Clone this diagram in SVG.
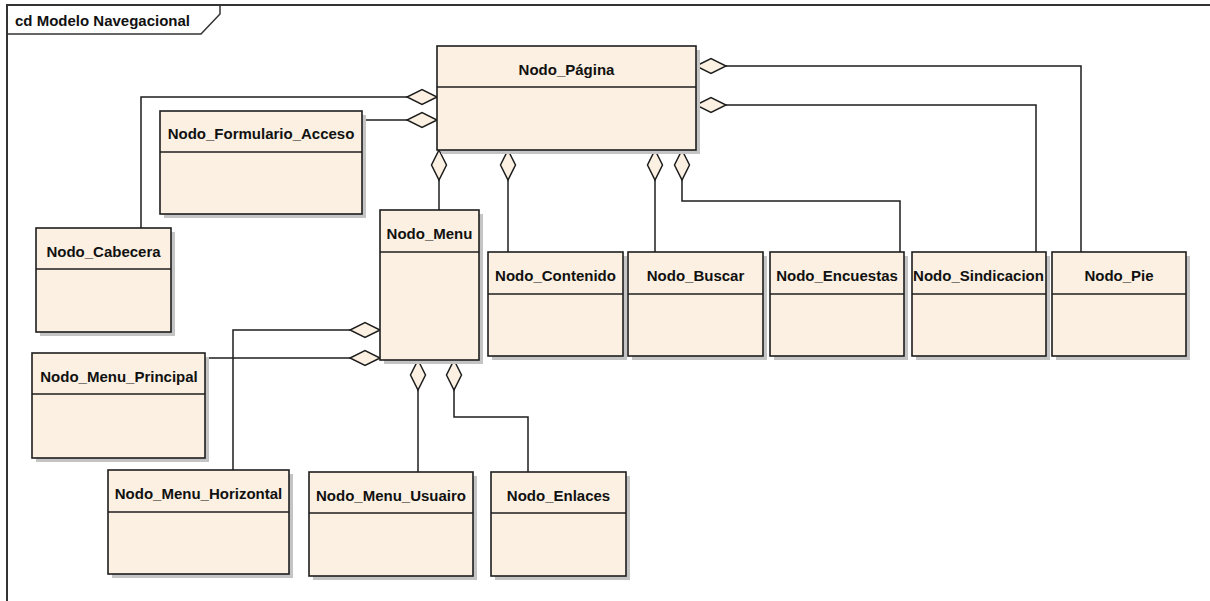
<svg xmlns="http://www.w3.org/2000/svg" width="1210" height="601" viewBox="0 0 1210 601">
<style>
.box{fill:#fbf0e1;stroke:#1e1e1e;stroke-width:1.6}
.shadow{fill:#c4c4c4}
.div{stroke:#1e1e1e;stroke-width:1.6}
.lbl{font-family:"Liberation Sans",Arial,sans-serif;font-weight:bold;font-size:15px;fill:#111;text-anchor:middle}
.con{fill:none;stroke:#1e1e1e;stroke-width:1.5;marker-start:url(#agg)}
.frame{fill:none;stroke:#333;stroke-width:2}
</style>
<defs>
<marker id="agg" markerUnits="userSpaceOnUse" orient="auto" refX="0" refY="0" markerWidth="32" markerHeight="18" viewBox="-1 -9 32 18" overflow="visible">
<path d="M0,0 L15,-7.5 L30,0 L15,7.5 Z" fill="#fbf0e1" stroke="#1e1e1e" stroke-width="1.5"/>
</marker>
</defs>
<rect width="1210" height="601" fill="#fff"/>
<g id="frame">
<path class="frame" d="M7,601 V5 H1210"/>
<path fill="none" stroke="#333" stroke-width="1.5" d="M220,5 V14 L201,34 H7"/>
<text x="15" y="26" font-family="'Liberation Sans',Arial,sans-serif" font-weight="bold" font-size="15" fill="#111">cd Modelo Navegacional</text>
</g>
<g id="connectors">
<path class="con" d="M696,66 H1081 V252"/>
<path class="con" d="M696,105 H1036 V252"/>
<path class="con" d="M437,97 H141 V228"/>
<path class="con" d="M437,120 H362"/>
<path class="con" d="M439,150 V210"/>
<path class="con" d="M508,150 V252"/>
<path class="con" d="M655,150 V252"/>
<path class="con" d="M682,150 V201 H900 V252"/>
<path class="con" d="M380,330 H233 V470"/>
<path class="con" d="M380,358 H205"/>
<path class="con" d="M418,360 V472"/>
<path class="con" d="M454,360 V417 H528 V472"/>
</g>
<g id="Nodo_Pagina">
<rect class="shadow" x="441" y="50" width="259" height="104"/>
<rect class="box" x="437" y="46" width="259" height="104"/>
<line class="div" x1="437" y1="87" x2="696" y2="87"/>
<text class="lbl" x="566.5" y="75">Nodo_Página</text>
</g>
<g id="Nodo_Formulario_Acceso">
<rect class="shadow" x="164" y="115" width="202" height="103"/>
<rect class="box" x="160" y="111" width="202" height="103"/>
<line class="div" x1="160" y1="152" x2="362" y2="152"/>
<text class="lbl" x="261" y="139">Nodo_Formulario_Acceso</text>
</g>
<g id="Nodo_Cabecera">
<rect class="shadow" x="40" y="232" width="135" height="104"/>
<rect class="box" x="36" y="228" width="135" height="104"/>
<line class="div" x1="36" y1="269" x2="171" y2="269"/>
<text class="lbl" x="103.5" y="257">Nodo_Cabecera</text>
</g>
<g id="Nodo_Menu">
<rect class="shadow" x="384" y="214" width="99" height="150"/>
<rect class="box" x="380" y="210" width="99" height="150"/>
<line class="div" x1="380" y1="252" x2="479" y2="252"/>
<text class="lbl" x="429.5" y="239">Nodo_Menu</text>
</g>
<g id="Nodo_Contenido">
<rect class="shadow" x="492" y="256" width="135" height="104"/>
<rect class="box" x="488" y="252" width="135" height="104"/>
<line class="div" x1="488" y1="294" x2="623" y2="294"/>
<text class="lbl" x="555.5" y="281">Nodo_Contenido</text>
</g>
<g id="Nodo_Buscar">
<rect class="shadow" x="632" y="256" width="135" height="104"/>
<rect class="box" x="628" y="252" width="135" height="104"/>
<line class="div" x1="628" y1="294" x2="763" y2="294"/>
<text class="lbl" x="695.5" y="281">Nodo_Buscar</text>
</g>
<g id="Nodo_Encuestas">
<rect class="shadow" x="774" y="256" width="134" height="104"/>
<rect class="box" x="770" y="252" width="134" height="104"/>
<line class="div" x1="770" y1="294" x2="904" y2="294"/>
<text class="lbl" x="837" y="281">Nodo_Encuestas</text>
</g>
<g id="Nodo_Sindicacion">
<rect class="shadow" x="916" y="256" width="134" height="104"/>
<rect class="box" x="912" y="252" width="134" height="104"/>
<line class="div" x1="912" y1="294" x2="1046" y2="294"/>
<text class="lbl" x="978.5" y="281">Nodo_Sindicacion</text>
</g>
<g id="Nodo_Pie">
<rect class="shadow" x="1056" y="256" width="134" height="104"/>
<rect class="box" x="1052" y="252" width="134" height="104"/>
<line class="div" x1="1052" y1="294" x2="1186" y2="294"/>
<text class="lbl" x="1119" y="281">Nodo_Pie</text>
</g>
<g id="Nodo_Menu_Principal">
<rect class="shadow" x="36" y="357" width="173" height="105"/>
<rect class="box" x="32" y="353" width="173" height="105"/>
<line class="div" x1="32" y1="394" x2="205" y2="394"/>
<text class="lbl" x="119" y="382">Nodo_Menu_Principal</text>
</g>
<g id="Nodo_Menu_Horizontal">
<rect class="shadow" x="112" y="474" width="181" height="104"/>
<rect class="box" x="108" y="470" width="181" height="104"/>
<line class="div" x1="108" y1="512" x2="289" y2="512"/>
<text class="lbl" x="198.5" y="499">Nodo_Menu_Horizontal</text>
</g>
<g id="Nodo_Menu_Usuairo">
<rect class="shadow" x="313" y="476" width="164" height="104"/>
<rect class="box" x="309" y="472" width="164" height="104"/>
<line class="div" x1="309" y1="513" x2="473" y2="513"/>
<text class="lbl" x="391" y="501">Nodo_Menu_Usuairo</text>
</g>
<g id="Nodo_Enlaces">
<rect class="shadow" x="495" y="476" width="135" height="104"/>
<rect class="box" x="491" y="472" width="135" height="104"/>
<line class="div" x1="491" y1="513" x2="626" y2="513"/>
<text class="lbl" x="558.5" y="501">Nodo_Enlaces</text>
</g>
</svg>
